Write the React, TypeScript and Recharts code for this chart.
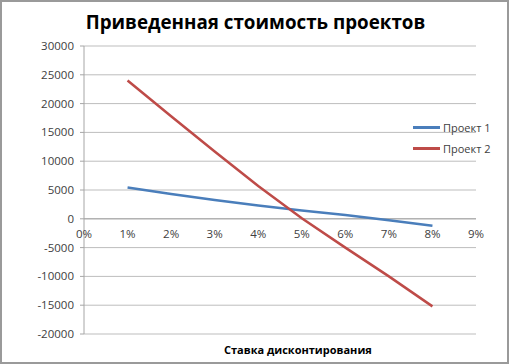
import { CartesianGrid, Line, LineChart, ReferenceLine, XAxis, YAxis } from "recharts";

// discount rate, %
const rates = [1, 2, 3, 4, 5, 6, 7, 8];
const project1 = [5450, 4300, 3250, 2300, 1450, 650, -250, -1200];
const project2 = [24000, 17800, 11700, 5700, 100, -5000, -10000, -15200];
const xTicks = [0, 1, 2, 3, 4, 5, 6, 7, 8, 9];
const yTicks = [-20000, -15000, -10000, -5000, 0, 5000, 10000, 15000, 20000, 25000, 30000];

const seriesNames = ["Проект 1", "Проект 2"];
const seriesColors = ["#4A7EBB", "#BE4B48"];

const W = 509;
const H = 364;
const margin = { top: 46, right: 33, left: 0, bottom: 0 };
const xAxisHeight = 30;
const yAxisWidth = 84;
const font = "'Open Sans', 'Liberation Sans', sans-serif";

const data = rates.map((r, i) => ({ rate: r, p1: project1[i], p2: project2[i] }));

// the category labels sit on the zero line, like in Excel
const plotH = H - margin.top - margin.bottom - xAxisHeight;
const yMin = yTicks[0];
const yMax = yTicks[yTicks.length - 1];
const zeroY = margin.top + (plotH * yMax) / (yMax - yMin);

const XTick = (props: any) => {
  const { x, payload } = props;
  return (
    <text x={x} y={zeroY + 19} textAnchor="middle" fontSize={11.5} fill="#404040" fontFamily={font}>
      {payload.value}%
    </text>
  );
};

export default function App() {
  return (
    <div
      style={{
        position: "fixed",
        left: 0,
        top: 0,
        width: W,
        height: H,
        background: "#fff",
        boxSizing: "border-box",
        border: "2px solid #9a9a9a",
        fontFamily: font,
      }}
    >
      <div
        style={{
          position: "absolute",
          left: 0,
          right: 0,
          top: 7,
          textAlign: "center",
          fontSize: 18.8,
          fontWeight: 700,
          color: "#000",
          paddingLeft: 2,
        }}
      >
        Приведенная стоимость проектов
      </div>
      <div style={{ position: "absolute", left: -2, top: -2 }}>
        <LineChart width={W} height={H} data={data} margin={margin}>
          <CartesianGrid vertical={false} stroke="#bdbdbd" />
          <XAxis
            dataKey="rate"
            type="number"
            domain={[0, 9]}
            ticks={xTicks}
            height={xAxisHeight}
            axisLine={false}
            tickLine={false}
            tick={XTick}
            interval={0}
          />
          <YAxis
            width={yAxisWidth}
            domain={[yMin, yMax]}
            ticks={yTicks}
            interval={0}
            stroke="#a6a6a6"
            tickSize={4}
            tickMargin={6}
            tick={{ fontSize: 11.5, fill: "#404040", fontFamily: font }}
          />
          <ReferenceLine y={0} stroke="#a6a6a6" />
          <Line
            dataKey="p1"
            name={seriesNames[0]}
            stroke={seriesColors[0]}
            strokeWidth={2.5}
            dot={false}
            type="linear"
            isAnimationActive={false}
          />
          <Line
            dataKey="p2"
            name={seriesNames[1]}
            stroke={seriesColors[1]}
            strokeWidth={2.5}
            dot={false}
            type="linear"
            isAnimationActive={false}
          />
        </LineChart>
      </div>
      <div style={{ position: "absolute", left: 411, top: 115, fontSize: 11, color: "#404040" }}>
        {seriesNames.map((name, i) => (
          <div key={name} style={{ display: "flex", alignItems: "center", height: 21 }}>
            <div style={{ width: 27, height: 3, background: seriesColors[i], marginRight: 3 }} />
            <span>{name}</span>
          </div>
        ))}
      </div>
      <div
        style={{
          position: "absolute",
          left: 222,
          top: 340,
          fontSize: 11,
          fontWeight: 700,
          color: "#000",
        }}
      >
        Ставка дисконтирования
      </div>
    </div>
  );
}
